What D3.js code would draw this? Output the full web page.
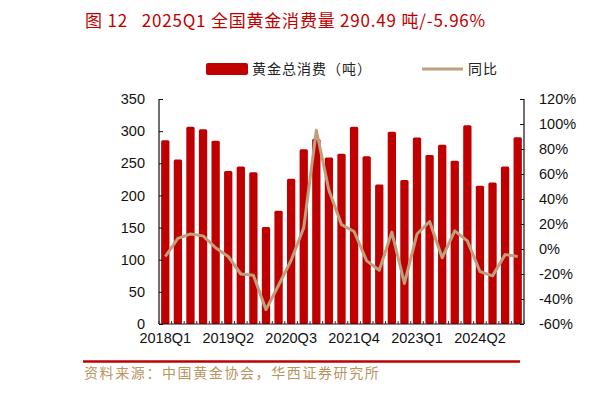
<!DOCTYPE html>
<html><head><meta charset="utf-8">
<script src="https://cdn.jsdelivr.net/npm/d3@7"></script>
<style>body{margin:0;background:#fff}svg{display:block}</style>
</head><body>
<svg id="c" width="597" height="393"></svg>
<script>
const quarters = ["2018Q1","2018Q2","2018Q3","2018Q4","2019Q1","2019Q2","2019Q3","2019Q4","2020Q1","2020Q2","2020Q3","2020Q4","2021Q1","2021Q2","2021Q3","2021Q4","2022Q1","2022Q2","2022Q3","2022Q4","2023Q1","2023Q2","2023Q3","2023Q4","2024Q1","2024Q2","2024Q3","2024Q4","2025Q1"];
const consumption = [286,256,307,303,285,238,245,236,151,176,226,272,288,259,265,307,261,217,299,224,290,263,279,254,309,215,220,245,290.49];
const yoy = [-6,8.5,12,10.5,1,-6,-20,-21,-48.5,-29,-9,17,95,47,19.5,14,-9.5,-17,13.5,-27.5,12,22,-7,14.5,6.5,-18,-21.5,-4.5,-5.96];
const leftTicks = [0,50,100,150,200,250,300,350];
const rightTicks = [-60,-40,-20,0,20,40,60,80,100,120];
const xLabelQuarters = ["2018Q1","2019Q2","2020Q3","2021Q4","2023Q1","2024Q2"];
const titleText = "图 12\u00a0\u00a0 2025Q1 全国黄金消费量 290.49 吨/-5.96%";
const legendBar = "黄金总消费（吨）";
const legendLine = "同比";
const sourceText = "资料来源：中国黄金协会，华西证券研究所";

const svg = d3.select("#c");
const L = 159, R = 524, T = 99, B = 324;
const x = d3.scaleBand().domain(quarters).range([L, R]).paddingInner(0.34).paddingOuter(0.17);
const xb = d3.scaleBand().domain(quarters).range([L, R]);
const yL = d3.scaleLinear().domain([0, 350]).range([B, T]);
const yR = d3.scaleLinear().domain([-60, 120]).range([B, T]);
const red = "#C00000", tan = "#C0A07C";
const numFont = "Liberation Sans, Arial, sans-serif";
const cjk = "'Noto Sans CJK SC', sans-serif";

// title
svg.append("text").attr("x", 85).attr("y", 27).attr("fill", red)
  .style("font-family", cjk).style("font-size", "17px").style("letter-spacing", "0.8px").text(titleText);

// legend
svg.append("rect").attr("x", 206).attr("y", 63).attr("width", 42).attr("height", 12).attr("rx", 2).attr("fill", red);
svg.append("text").attr("x", 252).attr("y", 74).attr("fill", "#222").style("font-family", cjk).style("font-size", "14px").style("letter-spacing", "1px").text(legendBar);
svg.append("line").attr("x1", 422).attr("x2", 463).attr("y1", 69).attr("y2", 69).attr("stroke", tan).attr("stroke-width", 3);
svg.append("text").attr("x", 468).attr("y", 74).attr("fill", "#222").style("font-family", cjk).style("font-size", "14px").style("letter-spacing", "1px").text(legendLine);

// bars
svg.append("g").selectAll("rect").data(quarters).join("rect")
  .attr("x", d => x(d)).attr("width", x.bandwidth())
  .attr("y", (d, i) => yL(consumption[i])).attr("height", (d, i) => B - yL(consumption[i]))
  .attr("rx", 1.5).attr("fill", red);

// line
const line = d3.line().x((d, i) => xb(quarters[i]) + xb.bandwidth() / 2).y(d => yR(d));
svg.append("path").datum(yoy).attr("d", line).attr("fill", "none").attr("stroke", tan)
  .attr("stroke-width", 3).attr("stroke-linejoin", "round");

// left axis
const gl = svg.append("g").attr("transform", `translate(${L},0)`)
  .call(d3.axisLeft(yL).tickValues(leftTicks).tickSize(-4).tickPadding(14));
// right axis
const gr = svg.append("g").attr("transform", `translate(${R},0)`)
  .call(d3.axisRight(yR).tickValues(rightTicks).tickSize(-4).tickPadding(15).tickFormat(d => d + "%"));
// bottom axis
const gb = svg.append("g").attr("transform", `translate(0,${B})`)
  .call(d3.axisBottom(xb).tickValues([]).tickSize(0));
gb.selectAll(".tick").remove();
const boundaries = quarters.map(q => xb(q)).concat([R]);
gb.selectAll("line.b").data(boundaries).join("line").attr("class", "b")
  .attr("x1", d => d).attr("x2", d => d).attr("y1", 0).attr("y2", -3).attr("stroke", "#333");
gb.selectAll("text.xl").data(xLabelQuarters).join("text").attr("class", "xl")
  .attr("x", d => xb(d) + xb.bandwidth() / 2).attr("y", 19).attr("text-anchor", "middle")
  .attr("fill", "#111").style("font-family", numFont).style("font-size", "14.5px").text(d => d);

[gl, gr, gb].forEach(g => {
  g.select(".domain").attr("stroke", "#111").attr("stroke-width", 1.2);
  g.selectAll(".tick line").attr("stroke", "#111");
  g.selectAll(".tick text").attr("fill", "#111").style("font-family", numFont).style("font-size", "14.5px");
});
gl.select(".domain").attr("d", `M0,${T}V${B}`);
gr.select(".domain").attr("d", `M0,${T}V${B}`);
gb.select(".domain").attr("d", `M${L},0H${R}`);

// footer
svg.append("line").attr("x1", 83).attr("x2", 520).attr("y1", 361.5).attr("y2", 361.5).attr("stroke", red).attr("stroke-width", 2.5);
svg.append("text").attr("x", 84).attr("y", 378).attr("fill", "#B8955F")
  .style("font-family", cjk).style("font-size", "14px").style("letter-spacing", "1.6px").text(sourceText);
</script>
</body></html>
